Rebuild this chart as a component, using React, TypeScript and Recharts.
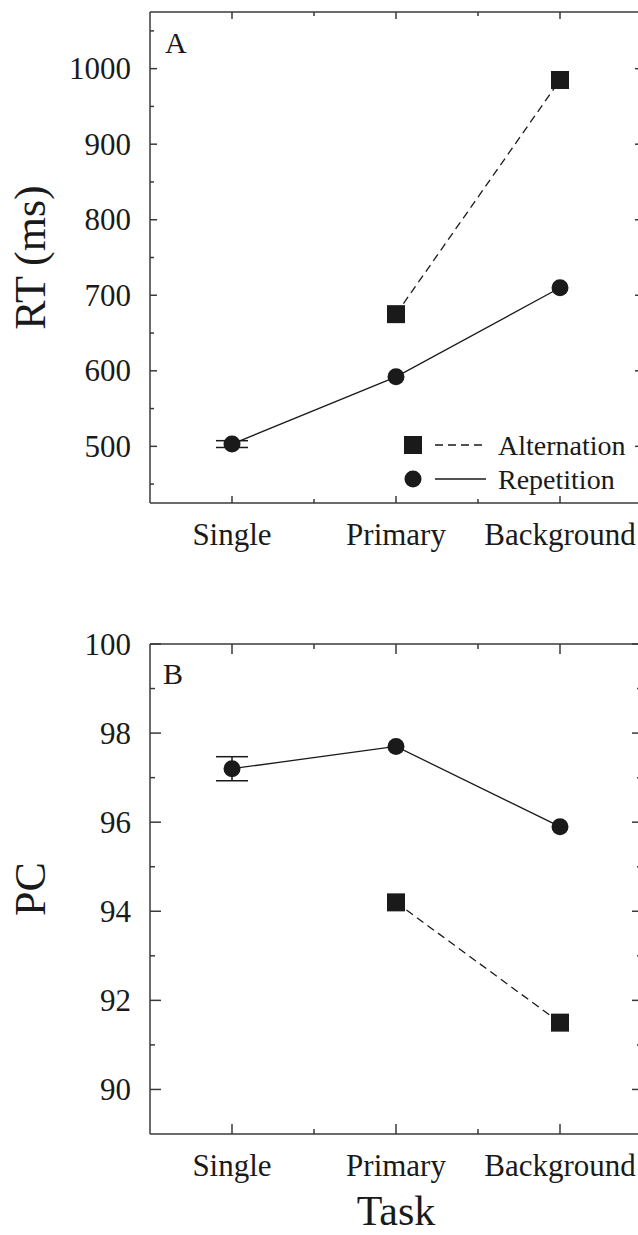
import React from 'react';
import { LineChart, Line, XAxis, YAxis, ErrorBar, Legend } from 'recharts';

// Task conditions (x positions 1..3 on a numeric axis)
const tasks = ['Single', 'Primary', 'Background'];
const taskPos = [1, 2, 3];
const xTicks = [1, 1.5, 2, 2.5, 3];

// Panel A: RT (ms)
const rtRepetition = [503, 592, 710];
const rtAlternation = [null, 675, 985];
const rtRepErr = [4.5, null, null];
const rtTicks = [450, 500, 550, 600, 650, 700, 750, 800, 850, 900, 950, 1000, 1050];
const rtMajor = [500, 600, 700, 800, 900, 1000];

// Panel B: PC
const pcRepetition = [97.2, 97.7, 95.9];
const pcAlternation = [null, 94.2, 91.5];
const pcRepErr = [0.27, null, null];
const pcTicks = [90, 91, 92, 93, 94, 95, 96, 97, 98, 99, 100];
const pcMajor = [90, 92, 94, 96, 98, 100];

const FONT = '"Liberation Serif", "Times New Roman", Times, serif';
const INK = '#1a1a1a';
const AXIS = '#3a3a3a';
const W = 650;
const TICK_FS = 31;

const rtData = taskPos.map((pos, i) => ({
  pos,
  name: tasks[i],
  rep: rtRepetition[i],
  alt: rtAlternation[i],
  repErr: rtRepErr[i],
}));

const pcData = taskPos.map((pos, i) => ({
  pos,
  name: tasks[i],
  rep: pcRepetition[i],
  alt: pcAlternation[i],
  repErr: pcRepErr[i],
}));

const CircleDot = (props: any) => {
  const { cx, cy, value } = props;
  if (value == null || cy == null) return <g key={props.index} />;
  return <circle key={props.index} cx={cx} cy={cy} r={8.5} fill={INK} />;
};

const SquareDot = (props: any) => {
  const { cx, cy, value } = props;
  if (value == null || cy == null) return <g key={props.index} />;
  return <rect key={props.index} x={cx - 9} y={cy - 9} width={18} height={18} fill={INK} />;
};

// tick factories: ticks point into the plot, minor ticks shorter
const leftTick = (majors: number[], len: number, minorLen: number) => (props: any) => {
  const { x, y, payload } = props;
  const major = majors.includes(payload.value);
  return (
    <g>
      <line x1={x} x2={x + (major ? len : minorLen)} y1={y} y2={y} stroke={AXIS} strokeWidth={1.5} />
      {major && (
        <text x={x - 19} y={y} textAnchor="end" dominantBaseline="central" fontFamily={FONT} fontSize={TICK_FS} fill={INK}>
          {payload.value}
        </text>
      )}
    </g>
  );
};

const rightTick = (majors: number[], len: number, minorLen: number) => (props: any) => {
  const { x, y, payload } = props;
  const major = majors.includes(payload.value);
  return <line x1={x} x2={x - (major ? len : minorLen)} y1={y} y2={y} stroke={AXIS} strokeWidth={1.5} />;
};

const bottomTick = (len: number, minorLen: number) => (props: any) => {
  const { x, y, payload } = props;
  const idx = taskPos.indexOf(payload.value);
  const major = idx >= 0;
  return (
    <g>
      <line x1={x} x2={x} y1={y} y2={y - (major ? len : minorLen)} stroke={AXIS} strokeWidth={1.5} />
      {major && (
        <text x={x} y={y + 42} textAnchor="middle" fontFamily={FONT} fontSize={TICK_FS} fill={INK}>
          {tasks[idx]}
        </text>
      )}
    </g>
  );
};

const topTick = (len: number, minorLen: number) => (props: any) => {
  const { x, y, payload } = props;
  const major = taskPos.includes(payload.value);
  return <line x1={x} x2={x} y1={y} y2={y + (major ? len : minorLen)} stroke={AXIS} strokeWidth={1.5} />;
};

const yLabel = (value: string) => (props: any) => {
  const vb = props.viewBox || {};
  const bx = (vb.x || 0) + 45;
  const cy = (vb.y || 0) + (vb.height || 0) / 2;
  return (
    <text x={bx} y={cy} transform={`rotate(-90, ${bx}, ${cy})`} textAnchor="middle" fontFamily={FONT} fontSize={44} fill={INK}>
      {value}
    </text>
  );
};

const taskLabel = (props: any) => {
  const vb = props.viewBox || {};
  const cx = (vb.x || 0) + (vb.width || 0) / 2;
  return (
    <text x={cx} y={(vb.y || 0) + 91} textAnchor="middle" fontFamily={FONT} fontSize={42} fill={INK}>
      Task
    </text>
  );
};

const legendItems = [
  { name: 'Alternation', marker: 'square', dash: '8 5' },
  { name: 'Repetition', marker: 'circle', dash: undefined },
];

const LegendBox = () => (
  <svg width={240} height={68}>
    {legendItems.map((it, i) => {
      const cy = 17 + i * 34;
      return (
        <g key={it.name}>
          {it.marker === 'square' ? (
            <rect x={4} y={cy - 9} width={18} height={18} fill={INK} />
          ) : (
            <circle cx={13} cy={cy} r={8.5} fill={INK} />
          )}
          <line x1={35} x2={86} y1={cy} y2={cy} stroke={INK} strokeWidth={1.3} strokeDasharray={it.dash} />
          <text x={98} y={cy} dominantBaseline="central" fontFamily={FONT} fontSize={28} fill={INK}>
            {it.name}
          </text>
        </g>
      );
    })}
  </svg>
);

// frame axes (top / right) plus an invisible series so they get a scale
const frameAxes = (domain: number[], ticks: number[], majors: number[], len: number, minorLen: number, data: any[]) => [
  <XAxis key="xt" xAxisId="t" orientation="top" dataKey="pos" type="number" domain={[0.5, 3.5]} allowDataOverflow ticks={xTicks} interval={0}
    height={1} tickSize={0} tickMargin={0} tickLine={false} stroke={AXIS} strokeWidth={1.5} tick={topTick(len, minorLen)} />,
  <YAxis key="yr" yAxisId="r" orientation="right" type="number" domain={domain} allowDataOverflow ticks={ticks} interval={0} width={1}
    tickSize={0} tickMargin={0} tickLine={false} stroke={AXIS} strokeWidth={1.5} tick={rightTick(majors, len, minorLen)} />,
  <Line key="frame" xAxisId="t" yAxisId="r" data={data} dataKey="rep" stroke="none" dot={false} activeDot={false} legendType="none" isAnimationActive={false} />,
];

export default function App() {
  return (
    <div style={{ position: 'absolute', left: 0, top: 0, width: 638, height: 1235, overflow: 'hidden', background: '#fff' }}>
      <div style={{ position: 'absolute', left: 0, top: 0 }}>
        <LineChart width={W} height={600} data={rtData} margin={{ top: 11, right: 7, bottom: 0, left: 0 }}>
          <XAxis dataKey="pos" type="number" domain={[0.5, 3.5]} allowDataOverflow ticks={xTicks} interval={0}
            height={97} tickSize={0} tickMargin={0} tickLine={false} stroke={AXIS} strokeWidth={1.5} tick={bottomTick(7, 4)} />
          <YAxis type="number" domain={[425, 1075]} allowDataOverflow ticks={rtTicks} interval={0} width={150}
            tickSize={0} tickMargin={0} tickLine={false} stroke={AXIS} strokeWidth={1.5} tick={leftTick(rtMajor, 7, 4)}
            label={{ content: yLabel('RT (ms)') }} />
          {frameAxes([425, 1075], rtTicks, rtMajor, 7, 4, rtData)}
          <Legend layout="vertical" align="center" verticalAlign="middle" content={<LegendBox />}
            wrapperStyle={{ left: 400, top: 428, width: 240 }} />
          <Line dataKey="alt" name="Alternation" stroke={INK} strokeWidth={1.3} strokeDasharray="8 5" dot={SquareDot} activeDot={false} isAnimationActive={false} />
          <Line dataKey="rep" name="Repetition" stroke={INK} strokeWidth={1.3} dot={CircleDot} activeDot={false} isAnimationActive={false}>
            <ErrorBar dataKey="repErr" width={16} stroke={INK} strokeWidth={1.5} direction="y" isAnimationActive={false} />
          </Line>
          <text x={165} y={53} fontFamily={FONT} fontSize={30} fill={INK}>A</text>
        </LineChart>
      </div>
      <div style={{ position: 'absolute', left: 0, top: 600 }}>
        <LineChart width={W} height={635} data={pcData} margin={{ top: 43, right: 7, bottom: 0, left: 0 }}>
          <XAxis dataKey="pos" type="number" domain={[0.5, 3.5]} allowDataOverflow ticks={xTicks} interval={0}
            height={101} tickSize={0} tickMargin={0} tickLine={false} stroke={AXIS} strokeWidth={1.5} tick={bottomTick(10, 5)}
            label={{ content: taskLabel }} />
          <YAxis type="number" domain={[89, 100]} allowDataOverflow ticks={pcTicks} interval={0} width={150}
            tickSize={0} tickMargin={0} tickLine={false} stroke={AXIS} strokeWidth={1.5} tick={leftTick(pcMajor, 11, 5)}
            label={{ content: yLabel('PC') }} />
          {frameAxes([89, 100], pcTicks, pcMajor, 10, 5, pcData)}
          <Line dataKey="alt" name="Alternation" stroke={INK} strokeWidth={1.3} strokeDasharray="8 5" dot={SquareDot} activeDot={false} isAnimationActive={false} />
          <Line dataKey="rep" name="Repetition" stroke={INK} strokeWidth={1.3} dot={CircleDot} activeDot={false} isAnimationActive={false}>
            <ErrorBar dataKey="repErr" width={16} stroke={INK} strokeWidth={1.5} direction="y" isAnimationActive={false} />
          </Line>
          <text x={163} y={84} fontFamily={FONT} fontSize={30} fill={INK}>B</text>
        </LineChart>
      </div>
    </div>
  );
}
